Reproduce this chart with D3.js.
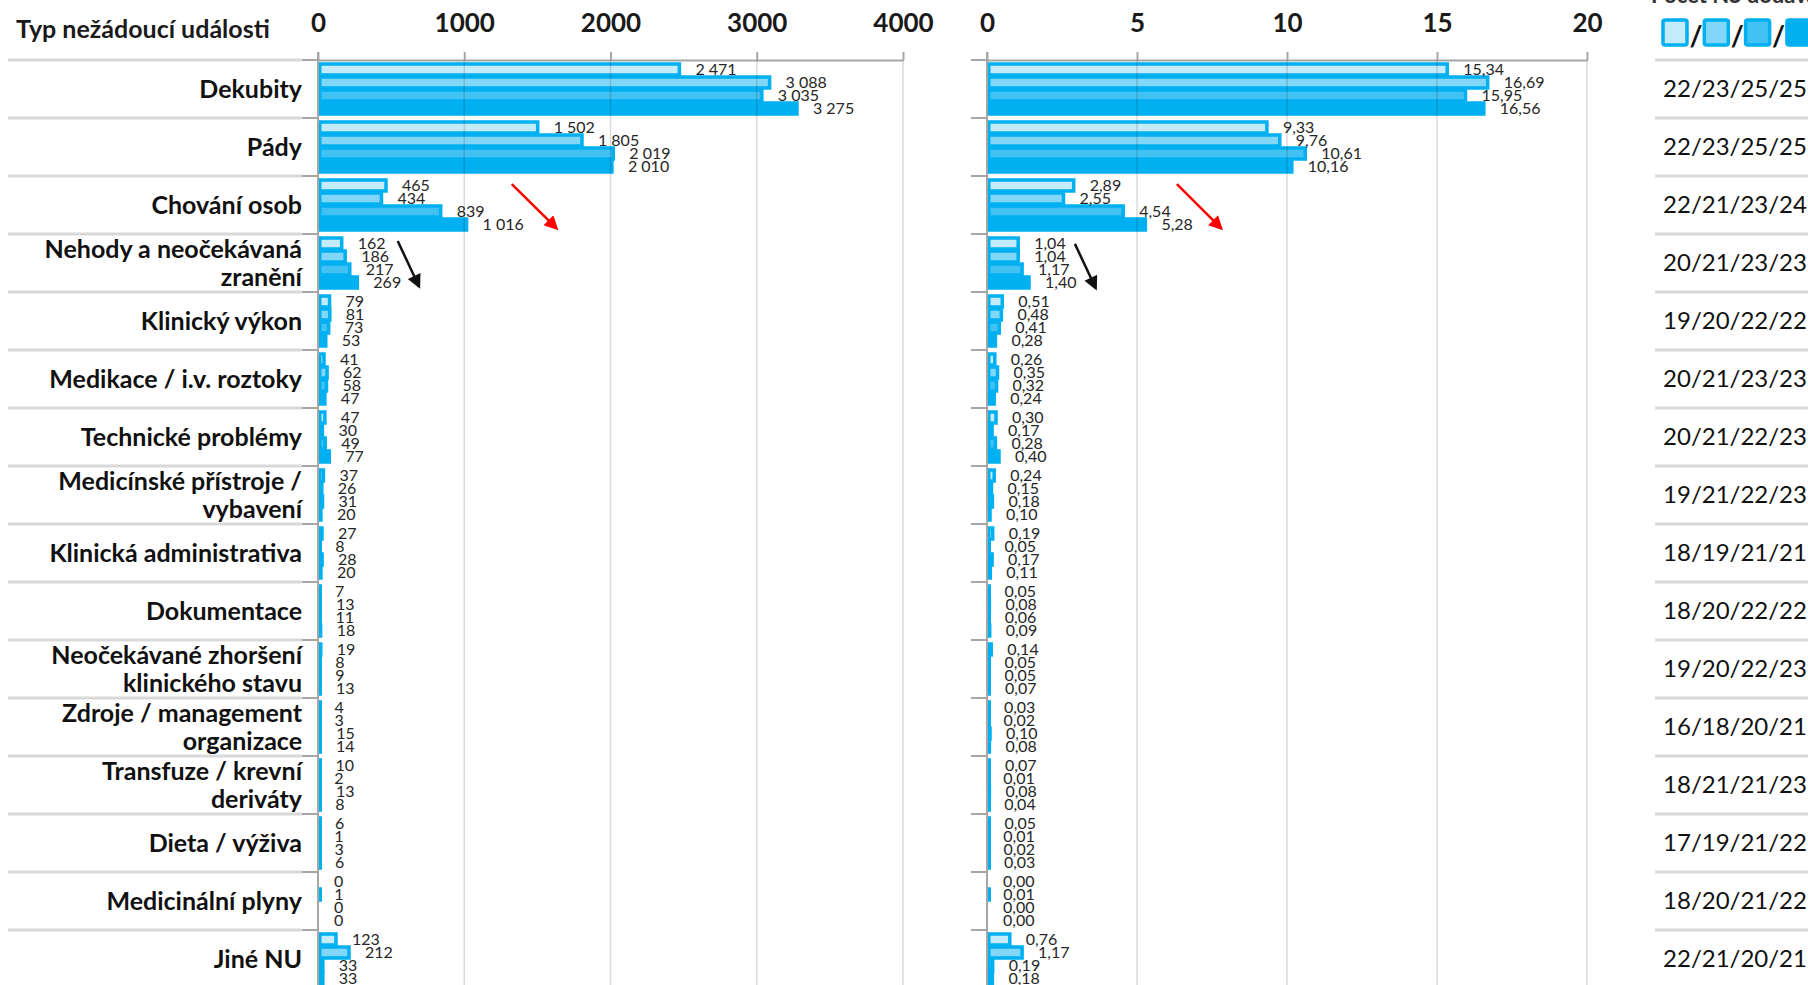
<!DOCTYPE html>
<html>
<head>
<meta charset="utf-8">
<script src="https://cdn.jsdelivr.net/npm/d3@7"></script>
<style>
  body { margin: 0; background: #fff; overflow: hidden; }
  text { font-family: Lato, "Noto Sans", sans-serif; }
</style>
</head>
<body>
<svg width="1808" height="985"></svg>
<script>
var categories = ["Dekubity", "Pády", "Chování osob", "Nehody a neočekávaná\nzranění", "Klinický výkon",
  "Medikace / i.v. roztoky", "Technické problémy", "Medicínské přístroje /\nvybavení", "Klinická administrativa",
  "Dokumentace", "Neočekávané zhoršení\nklinického stavu", "Zdroje / management\norganizace",
  "Transfuze / krevní\nderiváty", "Dieta / výživa", "Medicinální plyny", "Jiné NU"];

var counts1 = [2471, 1502, 465, 162, 79, 41, 47, 37, 27, 7, 19, 4, 10, 6, 0, 123];
var counts2 = [3088, 1805, 434, 186, 81, 62, 30, 26, 8, 13, 8, 3, 2, 1, 1, 212];
var counts3 = [3035, 2019, 839, 217, 73, 58, 49, 31, 28, 11, 9, 15, 13, 3, 0, 33];
var counts4 = [3275, 2010, 1016, 269, 53, 47, 77, 20, 20, 18, 13, 14, 8, 6, 0, 33];

var rates1 = [15.34, 9.33, 2.89, 1.04, 0.51, 0.26, 0.30, 0.24, 0.19, 0.05, 0.14, 0.03, 0.07, 0.05, 0.00, 0.76];
var rates2 = [16.69, 9.76, 2.55, 1.04, 0.48, 0.35, 0.17, 0.15, 0.05, 0.08, 0.05, 0.02, 0.01, 0.01, 0.01, 1.17];
var rates3 = [15.95, 10.61, 4.54, 1.17, 0.41, 0.32, 0.28, 0.18, 0.17, 0.06, 0.05, 0.10, 0.08, 0.02, 0.00, 0.19];
var rates4 = [16.56, 10.16, 5.28, 1.40, 0.28, 0.24, 0.40, 0.10, 0.11, 0.09, 0.07, 0.08, 0.04, 0.03, 0.00, 0.18];

var nsCounts = ["22/23/25/25", "22/23/25/25", "22/21/23/24", "20/21/23/23", "19/20/22/22", "20/21/23/23",
  "20/21/22/23", "19/21/22/23", "18/19/21/21", "18/20/22/22", "19/20/22/23", "16/18/20/21",
  "18/21/21/23", "17/19/21/22", "18/20/21/22", "22/21/20/21"];

var countTicks = [0, 1000, 2000, 3000, 4000];
var rateTicks = [0, 5, 10, 15, 20];

var titleText = "Typ nežádoucí události";
var tableTitle = "Počet NS dodávajících data";

var fills = ["#c4ebfa", "#82d6f7", "#42c2f3", "#00b0f0"];
var edge = "#00b0f0";

var cz = d3.formatLocale({decimal: ",", thousands: " ", grouping: [3], currency: ["", " Kč"]});
var fmtCount = cz.format(",d");
var fmtRate = cz.format(".2f");

var svg = d3.select("svg");
var top0 = 60, rowH = 58;

var y = d3.scaleBand().domain(categories).range([top0, top0 + rowH * categories.length]);
var ySub = d3.scaleBand().domain([0, 1, 2, 3]).range([3, 55]);

var xCount = d3.scaleLinear().domain([0, 4000]).range([318, 903]);
var xRate = d3.scaleLinear().domain([0, 20]).range([987, 1587]);

var defs = svg.append("defs");
["red", "#111"].forEach(function(c, i) {
  defs.append("marker")
    .attr("id", "arr" + i)
    .attr("viewBox", "0 0 10 10")
    .attr("refX", 8).attr("refY", 5)
    .attr("markerWidth", 16).attr("markerHeight", 14)
    .attr("markerUnits", "userSpaceOnUse")
    .attr("orient", "auto")
    .append("path").attr("d", "M0,0L10,5L0,10z").attr("fill", c);
});

// row separators on the label side and on the table side
var bounds = categories.map(function(c) { return y(c); }).concat([y.range()[1]]);
svg.selectAll(".sep").data(bounds).enter().append("line")
  .attr("x1", 8).attr("x2", 302)
  .attr("y1", function(d) { return d; }).attr("y2", function(d) { return d; })
  .attr("stroke", "#d9d9d9").attr("stroke-width", 3);
svg.selectAll(".sep2").data(bounds).enter().append("line")
  .attr("x1", 1655).attr("x2", 1808)
  .attr("y1", function(d) { return d; }).attr("y2", function(d) { return d; })
  .attr("stroke", "#d9d9d9").attr("stroke-width", 3);

svg.append("text")
  .attr("x", 16).attr("y", 38)
  .attr("font-size", 25).attr("font-weight", "bold").attr("fill", "#1a1a1a")
  .text(titleText);

// category labels
svg.selectAll(".cat").data(categories).enter().append("text")
  .attr("text-anchor", "end")
  .attr("font-size", 25).attr("font-weight", "bold").attr("fill", "#111")
  .each(function(c) {
    var lines = c.split("\n");
    var t = d3.select(this);
    var mid = y(c) + rowH / 2;
    lines.forEach(function(l, k) {
      t.append("tspan")
        .attr("x", 302)
        .attr("y", mid + (k - (lines.length - 1) / 2) * 27.5)
        .attr("dy", "0.35em")
        .text(l);
    });
  });

function drawChart(x, ticks, series, fmt) {
  var g = svg.append("g");
  var axis = d3.axisTop(x).tickValues(ticks).tickSize(8).tickSizeOuter(0).tickPadding(20).tickFormat(d3.format("d"));
  var ax = g.append("g").attr("transform", "translate(0," + top0 + ")").call(axis);
  ax.select(".domain").attr("stroke", "#a6a6a6").attr("stroke-width", 2);
  ax.selectAll(".tick line").attr("stroke", "#a6a6a6").attr("stroke-width", 2);
  ax.selectAll(".tick text")
    .attr("font-family", "Lato, sans-serif")
    .attr("font-size", 26).attr("font-weight", "bold").attr("fill", "#1a1a1a");

  series.forEach(function(vals, s) {
    var rows = categories.map(function(c, i) { return {cat: c, v: vals[i]}; });
    g.selectAll(".bar" + s).data(rows.filter(function(d) { return d.v > 0; })).enter().append("rect")
      .attr("x", x(0) + 1.75)
      .attr("y", function(d) { return y(d.cat) + ySub(s) + 1; })
      .attr("width", function(d) { return Math.max(0.5, x(d.v) - x(0) - 1.75); })
      .attr("height", 11)
      .attr("fill", fills[s])
      .attr("stroke", edge).attr("stroke-width", 3.5);
  });

  // grid on top, faint, so it shows through the bars like in the original
  g.selectAll(".grid").data(ticks.slice(1)).enter().append("line")
    .attr("x1", function(d) { return x(d); }).attr("x2", function(d) { return x(d); })
    .attr("y1", top0).attr("y2", 985)
    .attr("stroke", "#000").attr("stroke-opacity", 0.14).attr("stroke-width", 1.5);

  g.append("line")
    .attr("x1", x(0)).attr("x2", x(0)).attr("y1", top0 - 8).attr("y2", 985)
    .attr("stroke", "#a6a6a6").attr("stroke-width", 2);
  g.selectAll(".ytick").data(bounds).enter().append("line")
    .attr("x1", x(0) - 16).attr("x2", x(0))
    .attr("y1", function(d) { return d; }).attr("y2", function(d) { return d; })
    .attr("stroke", "#a6a6a6").attr("stroke-width", 2);

  series.forEach(function(vals, s) {
    g.selectAll(".lab" + s).data(categories).enter().append("text")
      .attr("x", function(c, i) { return x(vals[i]) + 16; })
      .attr("y", function(c) { return y(c) + ySub(s) + 6.5; })
      .attr("dy", "0.35em")
      .attr("font-size", 16).attr("fill", "#262626")
      .text(function(c, i) { return fmt(vals[i]); });
  });
  return g;
}

var gc = drawChart(xCount, countTicks, [counts1, counts2, counts3, counts4], fmtCount);
var gr = drawChart(xRate, rateTicks, [rates1, rates2, rates3, rates4], fmtRate);

function arrow(g, x, cat, x1, f1, x2, f2, id, color) {
  g.append("line")
    .attr("x1", x(x1)).attr("y1", y(cat) + f1 * rowH)
    .attr("x2", x(x2)).attr("y2", y(cat) + f2 * rowH)
    .attr("stroke", color).attr("stroke-width", 2.5)
    .attr("marker-end", "url(#" + id + ")");
}
arrow(gc, xCount, categories[2], 1325, 0.14, 1630, 0.9, "arr0", "red");
arrow(gc, xCount, categories[3], 545, 0.12, 690, 0.9, "arr1", "#111");
arrow(gr, xRate, categories[2], 6.33, 0.14, 7.8, 0.9, "arr0", "red");
arrow(gr, xRate, categories[3], 2.93, 0.17, 3.62, 0.93, "arr1", "#111");

// right hand table: number of hospitals reporting
svg.append("text")
  .attr("x", 1651).attr("y", 3)
  .attr("font-size", 22).attr("font-weight", "bold").attr("fill", "#333")
  .text(tableTitle);

var legend = svg.append("g");
fills.forEach(function(f, i) {
  legend.append("rect")
    .attr("x", 1663 + i * 41.3).attr("y", 20)
    .attr("width", 24).attr("height", 25).attr("rx", 2)
    .attr("fill", f).attr("stroke", edge).attr("stroke-width", 3.5);
  if (i < 3) {
    legend.append("text")
      .attr("x", 1696 + i * 41.3).attr("y", 46)
      .attr("text-anchor", "middle")
      .attr("font-size", 28).attr("font-weight", "bold").attr("fill", "#111")
      .text("/");
  }
});

svg.selectAll(".ns").data(nsCounts).enter().append("text")
  .attr("x", 1735)
  .attr("y", function(d, i) { return y(categories[i]) + rowH / 2; })
  .attr("dy", "0.35em")
  .attr("text-anchor", "middle")
  .attr("font-size", 24).attr("fill", "#111")
  .text(function(d) { return d; });
</script>
</body>
</html>
